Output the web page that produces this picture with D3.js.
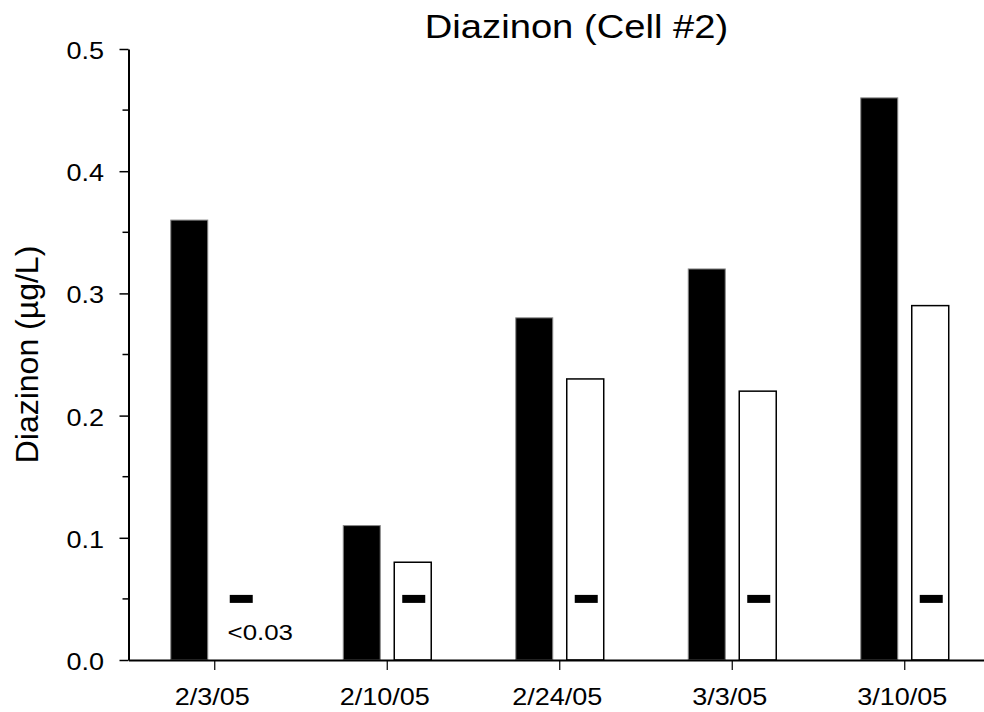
<!DOCTYPE html>
<html>
<head>
<meta charset="utf-8">
<script src="https://cdn.jsdelivr.net/npm/d3@7"></script>
<style>
  html, body { margin: 0; padding: 0; background: #fff; }
  svg { display: block; }
  text { font-family: "Liberation Sans", Arial, Helvetica, sans-serif; fill: #000; }
</style>
</head>
<body>
<svg id="chart" width="984" height="712"></svg>
<script>
// Sampling dates
const categories = ["2/3/05", "2/10/05", "2/24/05", "3/3/05", "3/10/05"];
// Diazinon concentration (µg/L), filled bars
const inflowValues = [0.36, 0.11, 0.28, 0.32, 0.46];
// Diazinon concentration (µg/L), open bars (null = not detected)
const outflowValues = [null, 0.08, 0.23, 0.22, 0.29];
// Reporting-limit marker drawn over each open bar
const limitValues = [0.05, 0.05, 0.05, 0.05, 0.05];
// Text note for non-detects
const notes = [{ category: "2/3/05", text: "<0.03" }];
// Axis ticks
const yMajorTicks = [0.0, 0.1, 0.2, 0.3, 0.4, 0.5];
const yMinorTicks = [0.05, 0.15, 0.25, 0.35, 0.45];

const titleText = "Diazinon (Cell #2)";
const yLabelText = "Diazinon (µg/L)";

const svg = d3.select("#chart");
const stretch = 1.15; // wide-set lettering for tick labels and title

const x0 = 128.5, x1 = 991, yTop = 49, yBottom = 660;

const x = d3.scaleBand()
  .domain(categories)
  .range([x0, x1])
  .paddingInner(0.49)
  .paddingOuter(0.245);

const sub = d3.scaleBand()
  .domain(["inflow", "outflow"])
  .range([0, x.bandwidth()])
  .paddingInner(14 / 51)
  .paddingOuter(0);

const y = d3.scaleLinear().domain([0, 0.5]).range([yBottom, yTop]);

const rows = categories.map((c, i) => ({
  category: c,
  inflow: inflowValues[i],
  outflow: outflowValues[i],
  limit: limitValues[i]
}));

// Filled bars
svg.append("g")
  .selectAll("rect")
  .data(rows)
  .join("rect")
  .attr("x", d => x(d.category) + sub("inflow"))
  .attr("y", d => y(d.inflow))
  .attr("width", sub.bandwidth())
  .attr("height", d => y(0) - y(d.inflow))
  .attr("fill", "#000")
  .attr("stroke", "#888")
  .attr("stroke-width", 1);

// Open bars
svg.append("g")
  .selectAll("rect")
  .data(rows.filter(d => d.outflow != null))
  .join("rect")
  .attr("x", d => x(d.category) + sub("outflow"))
  .attr("y", d => y(d.outflow))
  .attr("width", sub.bandwidth())
  .attr("height", d => y(0) - y(d.outflow))
  .attr("fill", "#fff")
  .attr("stroke", "#000")
  .attr("stroke-width", 1.5);

// Reporting-limit dashes
const dashW = 23, dashH = 8;
svg.append("g")
  .selectAll("rect")
  .data(rows)
  .join("rect")
  .attr("x", d => x(d.category) + sub("outflow") + sub.bandwidth() / 2 - dashW / 2 + 1)
  .attr("y", d => y(d.limit) - dashH / 2)
  .attr("width", dashW)
  .attr("height", dashH)
  .attr("fill", "#000");

// Non-detect note
svg.append("g")
  .selectAll("text")
  .data(notes)
  .join("text")
  .attr("transform", d => `translate(${x(d.category) + sub("outflow") + sub.bandwidth() / 2 + 20},${y(0) - 20}) scale(${stretch},1)`)
  .attr("text-anchor", "middle")
  .style("font-size", "22.5px")
  .text(d => d.text);

// Y axis
const yAxis = svg.append("g")
  .attr("transform", `translate(${x0},0)`)
  .call(d3.axisLeft(y).tickValues(yMajorTicks).tickSize(9).tickSizeOuter(0)
    .tickFormat(d3.format(".1f")));
yAxis.select(".domain").attr("stroke", "#000").attr("stroke-width", 2);
yAxis.selectAll(".tick line").attr("stroke", "#000").attr("stroke-width", 1.5);
yAxis.selectAll(".tick text")
  .attr("x", null).attr("dy", "0.4em")
  .attr("transform", `translate(-24.5,0) scale(${stretch},1)`)
  .attr("text-anchor", "end")
  .style("font-size", "23.5px")
  .style("font-family", null);

// Minor y ticks
svg.append("g")
  .attr("transform", `translate(${x0},0)`)
  .selectAll("line")
  .data(yMinorTicks)
  .join("line")
  .attr("x1", -6).attr("x2", 0)
  .attr("y1", d => y(d)).attr("y2", d => y(d))
  .attr("stroke", "#000").attr("stroke-width", 1.5);

// X axis
const xAxis = svg.append("g")
  .attr("transform", `translate(0,${yBottom})`)
  .call(d3.axisBottom(x).tickSize(10).tickSizeOuter(0));
xAxis.select(".domain").attr("stroke", "#000").attr("stroke-width", 2);
xAxis.selectAll(".tick line").attr("stroke", "#000").attr("stroke-width", 1.2);
xAxis.selectAll(".tick text")
  .attr("y", null).attr("dy", null)
  .attr("transform", `translate(-2.5,45) scale(${stretch},1)`)
  .attr("text-anchor", "middle")
  .style("font-size", "23.5px")
  .style("font-family", null);

// Title
svg.append("text")
  .attr("transform", `translate(576.5,38) scale(1.14,1)`)
  .attr("text-anchor", "middle")
  .style("font-size", "33.5px")
  .text(titleText);

// Y axis label
svg.append("text")
  .attr("transform", `translate(38,${(yTop + yBottom) / 2}) rotate(-90)`)
  .attr("text-anchor", "middle")
  .style("font-size", "32px")
  .text(yLabelText);
</script>
</body>
</html>
